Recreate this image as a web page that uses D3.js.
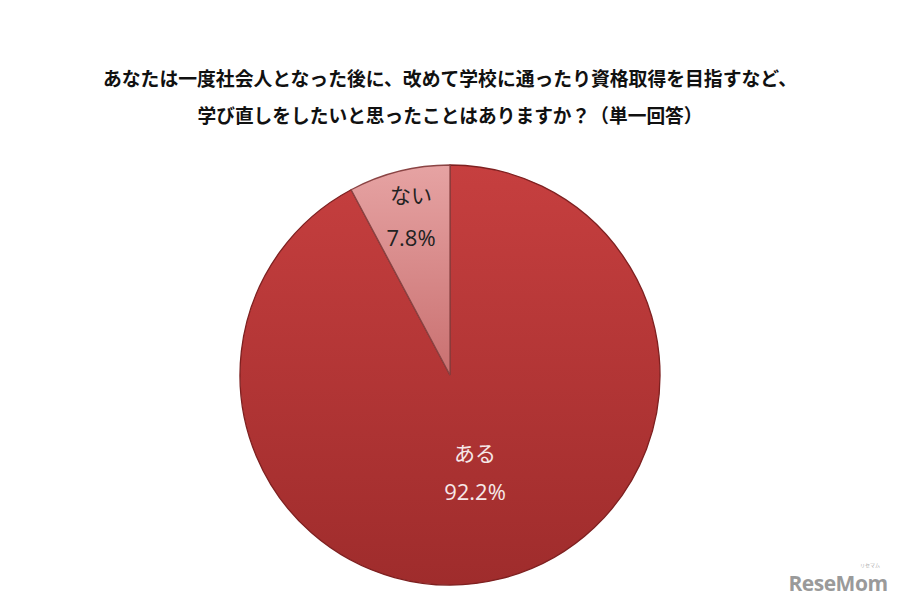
<!DOCTYPE html>
<html><head><meta charset="utf-8">
<script src="https://cdn.jsdelivr.net/npm/d3@7"></script>
<style>body{margin:0;background:#fff;}svg{display:block;}</style>
</head><body>
<svg id="c" width="900" height="604"></svg>
<script>
const titleLines = ["あなたは一度社会人となった後に、改めて学校に通ったり資格取得を目指すなど、","学び直しをしたいと思ったことはありますか？（単一回答）"];
const categories = ["ある","ない"];
const values = [92.2, 7.8];
const labelsText = ["92.2%","7.8%"];

const svg = d3.select("#c");
const W = 900, H = 604;
svg.append("rect").attr("width",W).attr("height",H).attr("fill","#fff");

const defs = svg.append("defs");
const g1 = defs.append("linearGradient").attr("id","gA").attr("x1",0).attr("y1",0).attr("x2",0).attr("y2",1);
g1.append("stop").attr("offset","0%").attr("stop-color","#C63F3F");
g1.append("stop").attr("offset","100%").attr("stop-color","#9F2C2C");
const g2 = defs.append("linearGradient").attr("id","gB").attr("x1",0).attr("y1",0).attr("x2",0).attr("y2",1);
g2.append("stop").attr("offset","0%").attr("stop-color","#E6A3A3");
g2.append("stop").attr("offset","100%").attr("stop-color","#C97070");

const title = svg.append("g").attr("font-family","'Noto Sans CJK JP', sans-serif").attr("font-weight","bold").attr("font-size",19).attr("fill","#111").attr("text-anchor","middle");
titleLines.forEach((t,i)=>{
  title.append("text").attr("x",450).attr("y",86 + i*37).attr("textLength", i===0?694:505).attr("lengthAdjust","spacingAndGlyphs").text(t);
});

const cx = 450, cy = 375, r = 210;
const pie = d3.pie().sort(null).value(d=>d)(values);
const arc = d3.arc().innerRadius(0).outerRadius(r);
const g = svg.append("g").attr("transform",`translate(${cx},${cy})`);
const fills = ["url(#gA)","url(#gB)"];
g.selectAll("path").data(pie).enter().append("path")
  .attr("d",arc).attr("fill",(d,i)=>fills[i])
  .attr("stroke",(d,i)=>i===0?"#7e2020":"#8a4444").attr("stroke-width",1.3);

const labelPos = [[475,461,500],[411,203,246]];
const lab = svg.append("g").attr("font-family","'Noto Sans CJK JP', sans-serif").attr("font-size",21).attr("text-anchor","middle");
categories.forEach((c,i)=>{
  const col = i===0 ? "#F6E8E8" : "#222";
  lab.append("text").attr("x",labelPos[i][0]).attr("y",labelPos[i][1]).attr("fill",col).text(c);
  lab.append("text").attr("x",labelPos[i][0]).attr("y",labelPos[i][2]).attr("fill",col).attr("font-family","'Open Sans', sans-serif").attr("font-size",22).text(labelsText[i]);
});

svg.append("text").attr("x",838).attr("y",591).attr("text-anchor","middle")
  .attr("font-family","'Open Sans', sans-serif").attr("font-weight","bold").attr("font-size",21)
  .attr("fill","#9a9a9a").attr("letter-spacing","-0.5").text("ReseMom");
svg.append("text").attr("x",870).attr("y",567).attr("text-anchor","middle")
  .attr("font-family","'Noto Sans CJK JP', sans-serif").attr("font-size",5).attr("fill","#aaa").text("リセマム");
</script>
</body></html>
